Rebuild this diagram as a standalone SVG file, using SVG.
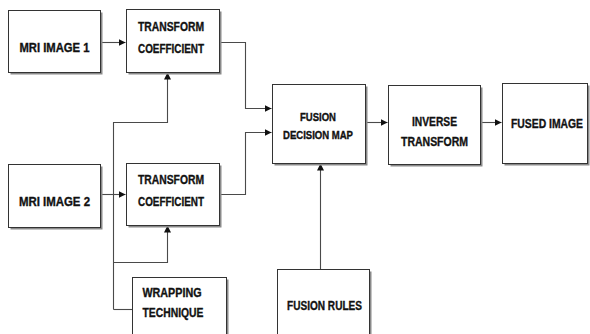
<svg xmlns="http://www.w3.org/2000/svg" width="590" height="334" viewBox="0 0 590 334">
  <style>
    .box { fill: #ffffff; stroke: #333333; stroke-width: 1; }
    .shadow { fill: #8a8a8a; }
    .label { font-family: "Liberation Sans", Arial, sans-serif; font-weight: bold; font-size: 12.5px; fill: #111111; stroke: #111111; stroke-width: 0.35; }
    .small { font-size: 11px; }
    .wire { fill: none; stroke: #4a4a4a; stroke-width: 1.1; }
    .arrow { marker-end: url(#head); }
  </style>
  <defs>
    <marker id="head" markerUnits="userSpaceOnUse" markerWidth="8" markerHeight="8" refX="7" refY="3.5" orient="auto">
      <path d="M0,0 L7,3.5 L0,7 z" fill="#111111"/>
    </marker>
  </defs>
  <rect width="590" height="334" fill="#ffffff"/>

  <!-- connectors -->
  <g id="connectors">
    <path class="wire arrow" d="M100.5,42.5 H125.5"/>
    <path class="wire arrow" d="M100.5,194.5 H125.5"/>
    <path class="wire arrow" d="M219.5,42.5 H245.5 V108.5 H271.5"/>
    <path class="wire arrow" d="M219.5,194.5 H245.5 V132.5 H271.5"/>
    <path class="wire" d="M113.5,309.5 H132"/>
    <path class="wire arrow" d="M113.5,309.5 V122.5 H167.5 V72.5"/>
    <path class="wire arrow" d="M113.5,262.5 H167.5 V225.5"/>
    <path class="wire arrow" d="M320.5,269 V163.5"/>
    <path class="wire arrow" d="M365.5,122.5 H387.5"/>
    <path class="wire arrow" d="M480.5,122.5 H501.5"/>
  </g>

  <g id="mri-image-1">
    <rect class="shadow" x="10.5" y="12.5" width="92" height="62"/>
    <rect class="box" x="8.5" y="10.5" width="92" height="62"/>
    <text class="label" x="54.5" y="51.5" text-anchor="middle" textLength="70" lengthAdjust="spacingAndGlyphs">MRI IMAGE 1</text>
  </g>

  <g id="transform-coefficient-1">
    <rect class="shadow" x="128.5" y="11.5" width="93" height="63"/>
    <rect class="box" x="126.5" y="9.5" width="93" height="63"/>
    <text class="label" x="171" y="30.5" text-anchor="middle" textLength="66" lengthAdjust="spacingAndGlyphs">TRANSFORM</text>
    <text class="label" x="171" y="52.5" text-anchor="middle" textLength="66" lengthAdjust="spacingAndGlyphs">COEFFICIENT</text>
  </g>

  <g id="mri-image-2">
    <rect class="shadow" x="10.5" y="166.5" width="92" height="63"/>
    <rect class="box" x="8.5" y="164.5" width="92" height="63"/>
    <text class="label" x="54.5" y="205.5" text-anchor="middle" textLength="71" lengthAdjust="spacingAndGlyphs">MRI IMAGE 2</text>
  </g>

  <g id="transform-coefficient-2">
    <rect class="shadow" x="128.5" y="165.5" width="93" height="62"/>
    <rect class="box" x="126.5" y="163.5" width="93" height="62"/>
    <text class="label" x="171" y="183.5" text-anchor="middle" textLength="66" lengthAdjust="spacingAndGlyphs">TRANSFORM</text>
    <text class="label" x="171" y="205.5" text-anchor="middle" textLength="66" lengthAdjust="spacingAndGlyphs">COEFFICIENT</text>
  </g>

  <g id="wrapping-technique">
    <rect class="shadow" x="134.5" y="279.5" width="94" height="62"/>
    <rect class="box" x="132.5" y="277.5" width="94" height="62"/>
    <text class="label" x="142.5" y="296.5" textLength="59" lengthAdjust="spacingAndGlyphs">WRAPPING</text>
    <text class="label" x="142.5" y="316.5" textLength="61" lengthAdjust="spacingAndGlyphs">TECHNIQUE</text>
  </g>

  <g id="fusion-decision-map">
    <rect class="shadow" x="274.5" y="86.5" width="93" height="79"/>
    <rect class="box" x="272.5" y="84.5" width="93" height="79"/>
    <text class="label small" x="318" y="121" text-anchor="middle" textLength="36" lengthAdjust="spacingAndGlyphs">FUSION</text>
    <text class="label small" x="318" y="139" text-anchor="middle" textLength="70" lengthAdjust="spacingAndGlyphs">DECISION MAP</text>
  </g>

  <g id="inverse-transform">
    <rect class="shadow" x="390.5" y="87.5" width="92" height="79"/>
    <rect class="box" x="388.5" y="85.5" width="92" height="79"/>
    <text class="label" x="434.5" y="125.5" text-anchor="middle" textLength="45" lengthAdjust="spacingAndGlyphs">INVERSE</text>
    <text class="label" x="434.5" y="145.5" text-anchor="middle" textLength="67" lengthAdjust="spacingAndGlyphs">TRANSFORM</text>
  </g>

  <g id="fused-image">
    <rect class="shadow" x="504.5" y="85.5" width="85" height="80"/>
    <rect class="box" x="502.5" y="83.5" width="85" height="80"/>
    <text class="label" x="547" y="127.5" text-anchor="middle" font-size="11.2" textLength="72" lengthAdjust="spacingAndGlyphs">FUSED IMAGE</text>
  </g>

  <g id="fusion-rules">
    <rect class="shadow" x="279.5" y="271.5" width="92" height="70"/>
    <rect class="box" x="277.5" y="269.5" width="92" height="70"/>
    <text class="label" x="324.5" y="309.5" text-anchor="middle" textLength="75" lengthAdjust="spacingAndGlyphs">FUSION RULES</text>
  </g>
</svg>
